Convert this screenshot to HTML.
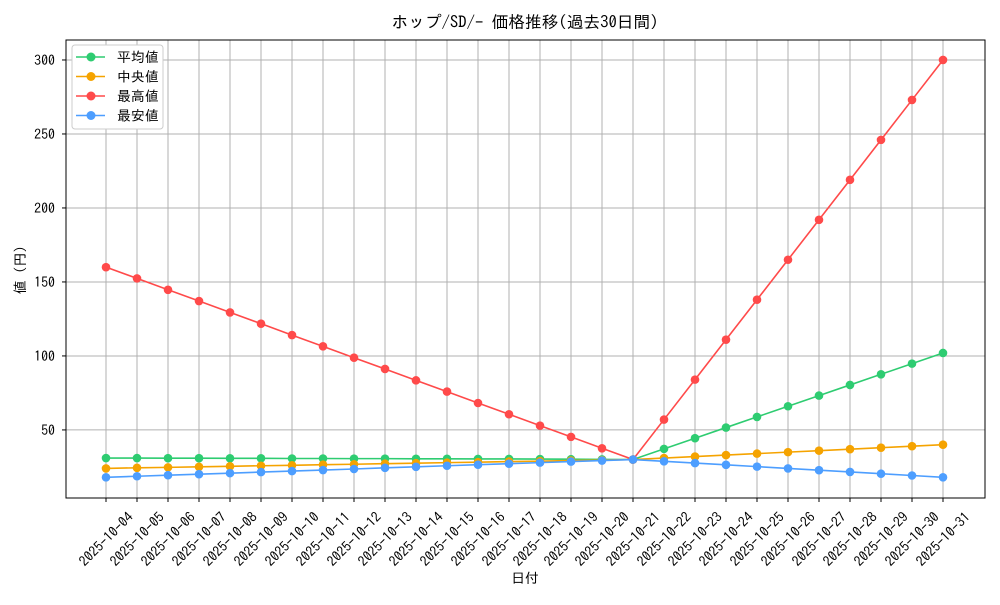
<!DOCTYPE html>
<html><head><meta charset="utf-8">
<style>
body{margin:0;background:#fff;}
svg text{font-family:"IPAGothic","Noto Sans CJK JP",sans-serif;fill:#000;}
</style></head>
<body>
<svg id="chart" width="1000" height="600" xmlns="http://www.w3.org/2000/svg">
<rect width="1000" height="600" fill="#fff"/>
<text x="525" y="28" font-size="16.7" text-anchor="middle">ホップ/SD/- 価格推移(過去30日間)</text>
<g id="grid"></g>
<g id="axes"></g>
<g id="series"></g>
<text x="525" y="583" font-size="13.9" text-anchor="middle">日付</text>
<text transform="translate(25,270) rotate(-90)" font-size="13.9" text-anchor="middle">値 (円)</text>
<g id="legend"></g>
</svg>
<script>
const dates=["2025-10-04","2025-10-05","2025-10-06","2025-10-07","2025-10-08","2025-10-09","2025-10-10","2025-10-11","2025-10-12","2025-10-13","2025-10-14","2025-10-15","2025-10-16","2025-10-17","2025-10-18","2025-10-19","2025-10-20","2025-10-21","2025-10-22","2025-10-23","2025-10-24","2025-10-25","2025-10-26","2025-10-27","2025-10-28","2025-10-29","2025-10-30","2025-10-31"];
const avgValues=[31,31,30.9,30.9,30.8,30.8,30.7,30.7,30.6,30.6,30.5,30.5,30.4,30.4,30.3,30.2,30.1,30,37.2,44.4,51.6,58.8,66,73.2,80.4,87.6,94.8,102];
const medianValues=[24,24.4,24.7,25.1,25.4,25.8,26.1,26.5,26.8,27.2,27.5,27.9,28.2,28.6,28.9,29.3,29.6,30,31,32,33,34,35,36,37,38,39,40];
const maxValues=[160,152.4,144.7,137.1,129.4,121.8,114.1,106.5,98.8,91.2,83.5,75.9,68.2,60.6,52.9,45.3,37.6,30,57,84,111,138,165,192,219,246,273,300];
const minValues=[18,18.7,19.4,20.1,20.8,21.5,22.2,22.9,23.6,24.4,25.1,25.8,26.5,27.2,27.9,28.6,29.3,30,28.8,27.6,26.4,25.2,24,22.8,21.6,20.4,19.2,18];
const yTicks=[50,100,150,200,250,300];
const seriesNames=["平均値","中央値","最高値","最安値"];
const seriesColors=["#2ecc71","#f5a300","#ff4a4a","#4d9eff"];

const NS="http://www.w3.org/2000/svg";
const L=66,R=985,T=40,B=498;
const x0=106,x1=943;
const xs=i=>x0+(x1-x0)*i/(dates.length-1);
const yMin=4,yMax=313.5;
const ys=v=>B-(v-yMin)/(yMax-yMin)*(B-T);
function mk(tag,attrs,parent){const e=document.createElementNS(NS,tag);for(const k in attrs)e.setAttribute(k,attrs[k]);parent.appendChild(e);return e;}
const grid=document.getElementById('grid'),axes=document.getElementById('axes'),ser=document.getElementById('series'),leg=document.getElementById('legend');
dates.forEach((d,i)=>{
 const x=xs(i);
 const g=mk('line',{x1:x,x2:x,y1:T,y2:B,stroke:'#b0b0b0','stroke-width':1},grid);
 
 
 const tk=mk('line',{x1:x,x2:x,y1:B,y2:B+4,stroke:'#000'},axes);
 
 
 const t=mk('text',{x:0,y:0,'font-size':13.9,'text-anchor':'middle','dominant-baseline':'central',transform:`translate(${x},${B+41}) rotate(-45)`},axes);
 t.textContent=d;
 
 
});
yTicks.forEach(v=>{
 const y=ys(v);
 const g=mk('line',{x1:L,x2:R,y1:y,y2:y,stroke:'#b0b0b0','stroke-width':1},grid);
 
 
 const tk=mk('line',{x1:L-4,x2:L,y1:y,y2:y,stroke:'#000'},axes);
 
 
 const t=mk('text',{x:L-11,y:y+5,'font-size':13.9,'text-anchor':'end'},axes);
 t.textContent=v;
 
 
});
const frame=mk('rect',{x:L,y:T,width:R-L,height:B-T,fill:'none',stroke:'#000','stroke-width':1},axes);


[avgValues,medianValues,maxValues,minValues].forEach((vals,si)=>{
 const c=seriesColors[si];
 const g=mk('g',{},ser);
 
 
 const p=mk('polyline',{points:vals.map((v,i)=>xs(i)+','+ys(v)).join(' '),fill:'none',stroke:c,'stroke-width':1.6},g);
 
 
 vals.forEach((v,i)=>{
  const m=mk('circle',{cx:xs(i),cy:ys(v),r:4.3,fill:c},g);
  
  
 });
});
const lb=mk('rect',{x:72,y:45,width:91,height:84,rx:3,fill:'#fff',stroke:'#ccc'},leg);


seriesNames.forEach((n,i)=>{
 const y=57+i*19.5;
 const g=mk('g',{},leg);
 
 
 mk('line',{x1:76,x2:105,y1:y,y2:y,stroke:seriesColors[i],'stroke-width':1.6},g);
 mk('circle',{cx:91,cy:y,r:4.5,fill:seriesColors[i]},g);
 const t=mk('text',{x:117,y:y+5,'font-size':13.9},g);
 t.textContent=n;
});
</script>
</body></html>
